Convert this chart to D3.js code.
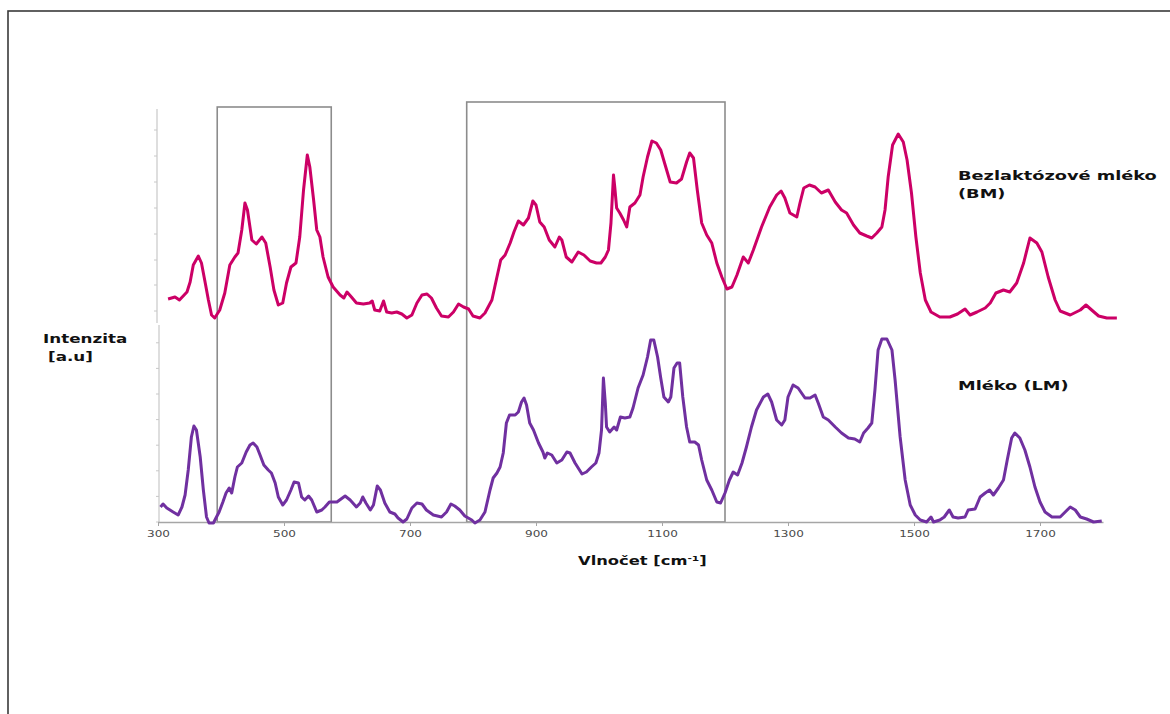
<!DOCTYPE html>
<html>
<head>
<meta charset="utf-8">
<script src="https://cdn.jsdelivr.net/npm/d3@7"></script>
<style>
  html, body { margin: 0; padding: 0; background: #fff; }
  svg { display: block; }
  text { font-family: "DejaVu Sans", Verdana, sans-serif; }
</style>
</head>
<body>
<svg id="chart" width="1170" height="714"></svg>
<script>
// Raman spectrum of milk (LM), wavenumber in cm-1 and intensity in a.u.
const lmWavenumber = [304,308,314,324,332,338,343,348,353,357,361,367,372,377,381,388,392,397,403,408,413,417,422,426,433,440,446,451,457,462,468,475,480,486,491,498,504,511,516,523,528,533,539,544,552,560,565,572,584,597,605,615,621,625,630,637,642,648,653,660,668,676,681,689,695,703,711,719,726,737,750,758,765,771,779,787,798,803,811,819,827,832,838,843,848,853,858,867,872,877,881,885,890,896,904,911,914,918,925,933,941,949,954,962,973,980,988,995,1000,1004,1007,1010,1012,1017,1024,1028,1034,1041,1049,1054,1062,1070,1077,1082,1087,1093,1098,1103,1110,1114,1119,1124,1128,1133,1139,1144,1152,1158,1163,1171,1179,1187,1193,1200,1207,1213,1220,1227,1234,1242,1250,1261,1268,1274,1282,1290,1295,1300,1308,1316,1327,1335,1343,1348,1356,1364,1375,1385,1396,1406,1414,1420,1427,1433,1438,1443,1449,1457,1465,1470,1478,1486,1494,1502,1510,1520,1527,1531,1541,1548,1556,1562,1570,1581,1586,1597,1605,1613,1620,1626,1634,1642,1648,1655,1660,1668,1676,1684,1692,1700,1708,1719,1732,1740,1748,1756,1764,1774,1785,1798];
const lmIntensity = [15,18,14,10,7,15,27,52,85,96,92,65,32,5,-1,-1,4,10,20,29,34,29,45,55,59,70,77,79,75,67,57,52,49,39,25,17,22,32,40,39,25,22,26,22,10,12,15,20,20,26,22,15,19,25,19,12,17,36,32,19,10,8,4,0,3,14,19,18,12,7,5,10,18,16,12,6,2,-1,2,10,32,44,49,55,69,99,107,107,110,120,124,117,99,92,79,70,64,69,67,59,62,70,69,59,48,50,55,59,69,92,144,119,95,90,95,92,105,104,105,114,134,147,165,182,182,165,144,125,120,125,154,159,159,125,95,80,80,77,62,42,32,20,19,29,42,50,47,59,75,95,112,125,128,120,102,97,102,125,137,134,124,124,127,119,105,102,95,89,84,83,80,89,94,99,132,172,183,183,172,142,85,42,17,7,2,0,5,0,2,5,12,5,4,5,12,13,25,29,32,27,34,42,62,84,89,84,72,55,35,20,10,5,5,10,15,12,5,3,0,1];

// Raman spectrum of lactose-free milk (BM), offset above LM
const bmWavenumber = [316,327,334,340,346,351,356,364,369,375,380,385,390,398,406,414,422,427,433,438,442,449,456,465,471,478,484,491,498,504,511,519,525,531,537,541,547,552,557,562,570,578,589,595,600,607,615,626,636,640,644,652,658,663,671,679,687,695,703,711,719,727,734,742,750,761,769,777,785,793,800,811,819,830,838,844,851,859,865,872,880,888,895,900,906,913,921,930,937,941,948,957,967,976,986,996,1003,1010,1015,1019,1023,1025,1028,1033,1039,1044,1049,1057,1065,1070,1077,1084,1091,1098,1105,1113,1123,1131,1139,1144,1150,1156,1163,1171,1179,1187,1195,1203,1211,1219,1229,1237,1245,1258,1271,1282,1289,1295,1303,1314,1319,1325,1334,1343,1353,1364,1375,1385,1393,1404,1414,1425,1433,1441,1449,1454,1459,1466,1475,1483,1489,1496,1503,1510,1518,1527,1541,1557,1569,1581,1589,1600,1613,1621,1630,1642,1652,1663,1674,1684,1695,1703,1713,1724,1732,1748,1764,1773,1782,1793,1806,1822];
const bmIntensity = [223,225,222,226,230,240,257,266,259,239,222,207,204,212,229,257,265,269,292,319,312,282,278,285,279,255,232,217,219,239,255,259,285,332,367,355,322,292,285,265,245,235,227,224,230,225,219,218,219,221,212,211,221,210,209,210,208,204,207,219,227,228,224,214,206,205,210,218,215,213,206,204,209,222,245,262,267,279,290,301,297,304,321,317,300,295,282,275,285,282,265,260,270,267,261,259,259,265,272,299,347,335,314,309,302,295,315,319,327,345,365,381,379,372,357,340,339,343,360,369,364,332,299,287,279,259,245,233,235,247,265,259,272,295,315,327,331,324,309,305,319,334,337,335,329,332,320,312,309,297,289,286,284,289,295,312,345,377,388,380,362,329,285,249,222,210,205,205,208,213,207,210,214,219,229,232,230,239,259,284,279,270,245,222,211,207,212,217,212,206,204,204];

// Axis ticks and labels
const xTickValues = [300, 500, 700, 900, 1100, 1300, 1500, 1700];
const lowerAxisTicks = [0, 25.6, 51.2, 76.8, 102.4, 128, 153.6, 179.2];
const upperAxisTicks = [211, 237, 262, 288, 314, 340, 366, 392];
const lowerAxisExtent = [0, 197];
const upperAxisExtent = [199, 413];

// Highlighted spectral regions (cm-1) and their top edge (a.u.)
const regionStart = [394, 790];
const regionEnd = [575, 1200];
const regionTop = [415, 420];

const seriesNames = ["Bezlaktózové mléko", "(BM)"];
const seriesNames2 = ["Mléko (LM)"];
const yTitle = ["Intenzita", "[a.u]"];

const svg = d3.select("#chart");
const textStretch = 1.42;

// outer frame
svg.append("rect")
  .attr("x", 8).attr("y", 11)
  .attr("width", 1200).attr("height", 760)
  .attr("fill", "none").attr("stroke", "#3a3a3a").attr("stroke-width", 1.6);

const x = d3.scaleLinear().domain([300, 1800]).range([158, 1103]);
const y = d3.scaleLinear().domain([0, 415]).range([522, 107]);

// two stacked value axes, one per spectrum
function valueAxis(extent, ticks, xPos) {
  const g = svg.append("g").attr("transform", `translate(${xPos},0)`);
  g.append("line")
    .attr("x1", 0).attr("x2", 0)
    .attr("y1", y(extent[0])).attr("y2", y(extent[1]))
    .attr("stroke", "#bdbdbd").attr("stroke-width", 1);
  g.selectAll("line.tk").data(ticks).join("line")
    .attr("class", "tk")
    .attr("x1", -3).attr("x2", 0)
    .attr("y1", d => y(d)).attr("y2", d => y(d))
    .attr("stroke", "#c8c8c8").attr("stroke-width", 1);
}
valueAxis(upperAxisExtent, upperAxisTicks, 157);
valueAxis(lowerAxisExtent, lowerAxisTicks, 159);

// highlighted regions
svg.selectAll("rect.region").data(regionStart).join("rect")
  .attr("class", "region")
  .attr("x", (d) => x(d))
  .attr("y", (d, i) => y(regionTop[i]))
  .attr("width", (d, i) => x(regionEnd[i]) - x(d))
  .attr("height", (d, i) => y(0) - y(regionTop[i]))
  .attr("fill", "none")
  .attr("stroke", "#8c8c8c")
  .attr("stroke-width", 1.6);

// wavenumber axis
const xAxis = d3.axisBottom(x).tickValues(xTickValues).tickFormat(d3.format("d"))
  .tickSize(4).tickSizeOuter(0);
const gx = svg.append("g").attr("transform", `translate(0,${y(0)})`).call(xAxis);
gx.select(".domain").attr("stroke", "#a6a6a6").attr("stroke-width", 1.6);
gx.selectAll(".tick line").attr("stroke", "#a6a6a6");
gx.selectAll(".tick text")
  .attr("y", 12).attr("dy", "0.32em")
  .attr("fill", "#4a4a4a")
  .style("font-size", "8.5px")
  .attr("transform", `scale(${textStretch},1)`);

// spectra
const line = d3.line().x(d => x(d[0])).y(d => y(d[1]));
const lmData = lmWavenumber.map((w, i) => [w, lmIntensity[i]]);
const bmData = bmWavenumber.map((w, i) => [w, bmIntensity[i]]);

svg.append("path").datum(lmData)
  .attr("d", line)
  .attr("fill", "none").attr("stroke", "#7030a0")
  .attr("stroke-width", 3).attr("stroke-linejoin", "round");

svg.append("path").datum(bmData)
  .attr("d", line)
  .attr("fill", "none").attr("stroke", "#cc0066")
  .attr("stroke-width", 3).attr("stroke-linejoin", "round");

// labels
function label(px, py, str, size) {
  const g = svg.append("g").attr("transform", `translate(${px},${py}) scale(${textStretch},1)`);
  const t = g.append("text")
    .style("font-size", size + "px").style("font-weight", "bold")
    .attr("fill", "#111");
  return t.text(str);
}
label(958, 180, seriesNames[0], 12.5);
label(958, 198, seriesNames[1], 12.5);
label(958, 390, seriesNames2[0], 12.5);
label(43, 343, yTitle[0], 11.8);
label(48, 361, yTitle[1], 11.8);

// wavenumber axis title with superscript
const tg = svg.append("g").attr("transform", `translate(578,565) scale(${textStretch},1)`);
const tt = tg.append("text").style("font-size", "11.5px").style("font-weight", "bold").attr("fill", "#111");
tt.append("tspan").text("Vlnočet [cm");
tt.append("tspan").attr("dy", -4).style("font-size", "7.5px").text("-1");
tt.append("tspan").attr("dy", 4).text("]");
</script>
</body>
</html>
